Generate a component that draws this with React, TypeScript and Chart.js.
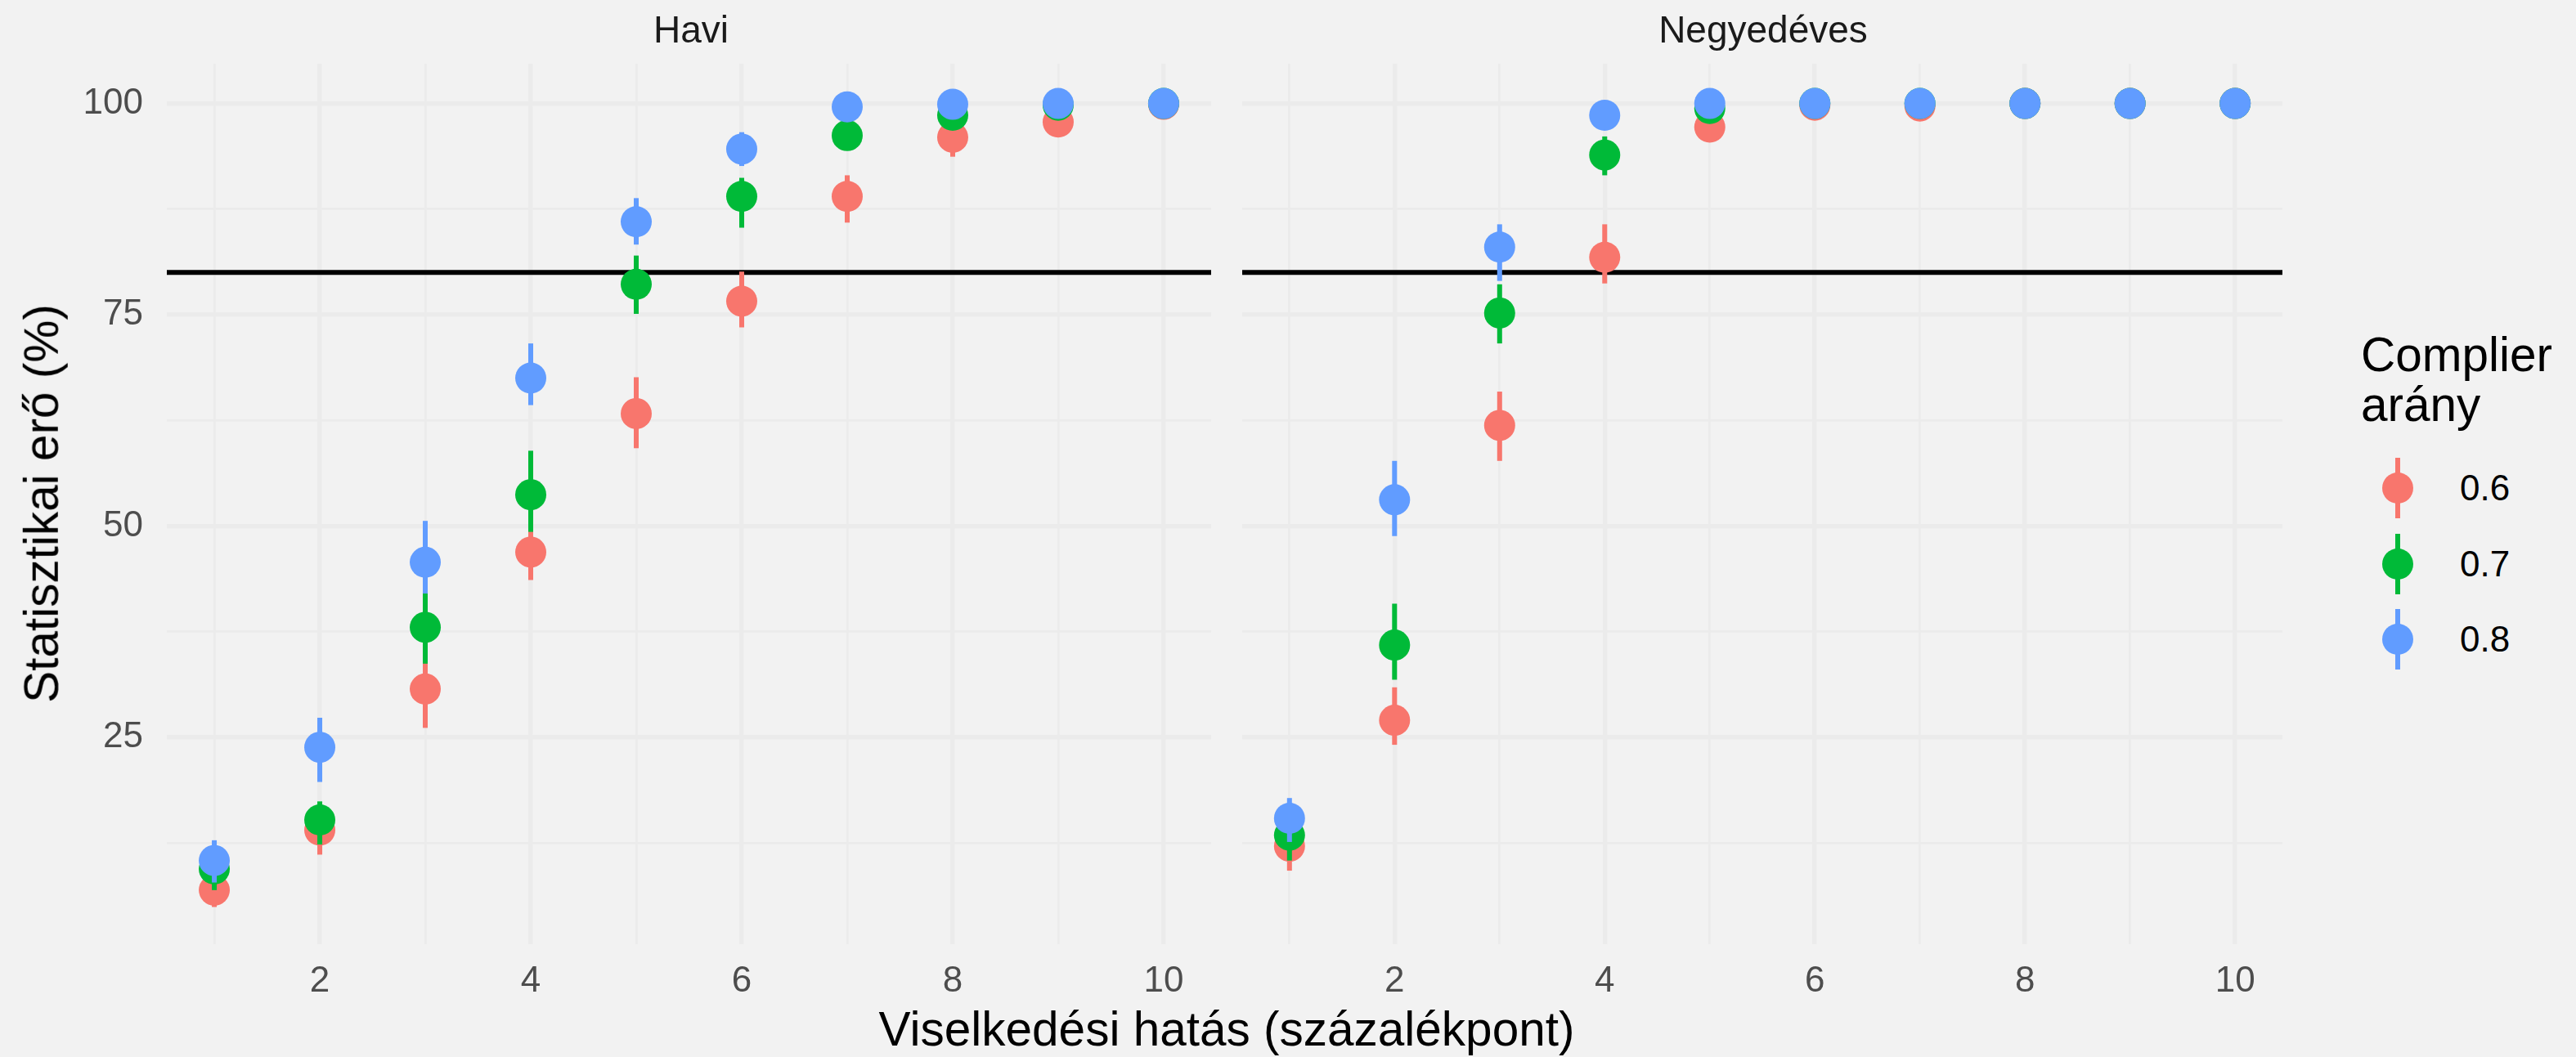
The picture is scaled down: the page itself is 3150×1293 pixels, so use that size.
import React, { useEffect, useRef } from "react";
import { Chart, registerables } from "chart.js";

Chart.register(...registerables);

// ---------- data ----------
const effects = [1, 2, 3, 4, 5, 6, 7, 8, 9, 10];
const facetNames = ["Havi", "Negyedéves"];
const complierLevels = ["0.6", "0.7", "0.8"];
const seriesColors = ["#F8766D", "#00BA38", "#619CFF"];
const yTickValues = [12.5, 25, 37.5, 50, 62.5, 75, 87.5, 100];
const yLabelValues = [25, 50, 75, 100];
const xLabelValues = [2, 4, 6, 8, 10];
const targetPower = 80;

// Havi (monthly)
const haviMean06 = [6.9, 14.0, 30.7, 46.9, 63.3, 76.6, 89.0, 96.0, 97.8, 99.9];
const haviLo06 = [4.9, 11.1, 26.1, 43.6, 59.2, 73.5, 85.9, 93.7, 96.4, 99.5];
const haviHi06 = [9.1, 16.9, 35.0, 50.6, 67.6, 80.1, 91.5, 97.6, 99.0, 100];
const haviMean07 = [9.4, 15.2, 38.0, 53.7, 78.6, 89.0, 96.2, 98.6, 99.8, 100];
const haviLo07 = [6.9, 12.3, 33.7, 49.3, 75.1, 85.3, 94.5, 97.6, 99.4, 100];
const haviHi07 = [12.0, 17.4, 42.3, 58.9, 82.0, 91.2, 97.8, 99.6, 100, 100];
const haviMean08 = [10.4, 23.8, 45.7, 67.5, 86.0, 94.6, 99.6, 99.9, 100, 100];
const haviLo08 = [7.8, 19.7, 42.0, 64.3, 83.3, 92.6, 99.0, 99.6, 100, 100];
const haviHi08 = [12.8, 27.3, 50.6, 71.6, 88.8, 96.6, 100, 100, 100, 100];

// Negyedéves (quarterly)
const negyMean06 = [12.1, 27.0, 61.9, 81.8, 97.2, 99.8, 99.7, 100, 100, 100];
const negyLo06 = [9.2, 24.1, 57.7, 78.7, 95.8, 99.3, 99.2, 100, 100, 100];
const negyHi06 = [15.0, 30.9, 65.9, 85.7, 98.6, 100, 100, 100, 100, 100];
const negyMean07 = [13.4, 35.9, 75.2, 93.9, 99.4, 100, 100, 100, 100, 100];
const negyLo07 = [10.4, 31.8, 71.6, 91.5, 98.7, 100, 100, 100, 100, 100];
const negyHi07 = [16.4, 40.8, 78.6, 96.1, 100, 100, 100, 100, 100, 100];
const negyMean08 = [15.4, 53.1, 83.0, 98.6, 100, 100, 100, 100, 100, 100];
const negyLo08 = [12.6, 48.8, 79.0, 97.6, 100, 100, 100, 100, 100, 100];
const negyHi08 = [17.8, 57.7, 85.7, 99.6, 100, 100, 100, 100, 100, 100];

const facetSeries = [
  [
    { mean: haviMean06, lo: haviLo06, hi: haviHi06 },
    { mean: haviMean07, lo: haviLo07, hi: haviHi07 },
    { mean: haviMean08, lo: haviLo08, hi: haviHi08 },
  ],
  [
    { mean: negyMean06, lo: negyLo06, hi: negyHi06 },
    { mean: negyMean07, lo: negyLo07, hi: negyHi07 },
    { mean: negyMean08, lo: negyLo08, hi: negyHi08 },
  ],
];

// ---------- styling / layout ----------
const FONT = "'Liberation Sans', Arial, sans-serif";
const BG = "#F2F2F2";
const GRID = "#EBEBEB";
const TOTAL_W = 3150;
const TOTAL_H = 1293;
const PANEL_TOP = 78;
const XAXIS_H = 138;
const POINT_R = 19;
const BAR_W = 6;
const TITLE_SIZE = 58.5;
const TICK_SIZE = 44;

const panels = [
  { canvasLeft: 0, canvasWidth: 1500, yAxisWidth: 204, padRight: 14, showY: true },
  { canvasLeft: 1500, canvasWidth: 1310, yAxisWidth: 15, padRight: 13, showY: false },
];

const errorBarPlugin = {
  id: "errorBars",
  beforeDatasetsDraw(chart: any) {
    const { ctx, chartArea, scales } = chart;
    const y = scales.y.getPixelForValue(targetPower);
    ctx.save();
    ctx.strokeStyle = "#000000";
    ctx.lineWidth = 6;
    ctx.beginPath();
    ctx.moveTo(chartArea.left, y);
    ctx.lineTo(chartArea.right, y);
    ctx.stroke();
    ctx.restore();
  },
  beforeDatasetDraw(chart: any, args: any) {
    const ds: any = chart.data.datasets[args.index];
    if (!ds.errLo) return;
    const { ctx, scales } = chart;
    ctx.save();
    ctx.strokeStyle = ds.backgroundColor;
    ctx.lineWidth = BAR_W;
    ctx.lineCap = "butt";
    ds.data.forEach((p: any, i: number) => {
      const x = scales.x.getPixelForValue(p.x);
      const y1 = scales.y.getPixelForValue(ds.errLo[i]);
      const y2 = scales.y.getPixelForValue(ds.errHi[i]);
      ctx.beginPath();
      ctx.moveTo(x, y1);
      ctx.lineTo(x, y2);
      ctx.stroke();
    });
    ctx.restore();
  },
};

function makeConfig(facetIndex: number) {
  const p = panels[facetIndex];
  const datasets = complierLevels.map((lvl, s) => {
    const ser = facetSeries[facetIndex][s];
    return {
      label: lvl,
      data: effects.map((x, i) => ({ x, y: ser.mean[i] })),
      errLo: ser.lo,
      errHi: ser.hi,
      backgroundColor: seriesColors[s],
      borderColor: seriesColors[s],
      pointRadius: POINT_R,
      pointHoverRadius: POINT_R,
      pointBorderWidth: 0,
      showLine: false,
      order: 3 - s,
    };
  });
  return {
    type: "scatter",
    data: { datasets },
    plugins: [errorBarPlugin],
    options: {
      responsive: false,
      animation: false,
      events: [],
      layout: { padding: { left: 0, right: p.padRight, top: PANEL_TOP, bottom: 0 } },
      plugins: { legend: { display: false }, tooltip: { enabled: false }, title: { display: false } },
      scales: {
        x: {
          type: "linear",
          min: 0.55,
          max: 10.45,
          afterBuildTicks: (axis: any) => {
            axis.ticks = effects.map((v) => ({ value: v }));
          },
          afterFit: (axis: any) => {
            axis.height = XAXIS_H;
          },
          grid: {
            color: GRID,
            lineWidth: (c: any) => (c.tick && xLabelValues.includes(c.tick.value) ? 5.5 : 2.8),
            drawTicks: false,
          },
          border: { display: false },
          ticks: {
            autoSkip: false,
            maxRotation: 0,
            padding: 19,
            color: "#4D4D4D",
            font: { family: FONT, size: TICK_SIZE },
            callback: (v: any) => (xLabelValues.includes(Number(v)) ? String(v) : ""),
          },
        },
        y: {
          type: "linear",
          min: 0.5,
          max: 104.7,
          afterBuildTicks: (axis: any) => {
            axis.ticks = yTickValues.map((v) => ({ value: v }));
          },
          afterFit: (axis: any) => {
            axis.width = p.yAxisWidth;
          },
          grid: {
            color: GRID,
            lineWidth: (c: any) => (c.tick && yLabelValues.includes(c.tick.value) ? 5.5 : 2.8),
            drawTicks: false,
          },
          border: { display: false },
          ticks: {
            display: p.showY,
            autoSkip: false,
            padding: 29,
            color: "#4D4D4D",
            font: { family: FONT, size: TICK_SIZE },
            callback: (v: any) => (yLabelValues.includes(Number(v)) ? String(v) : ""),
          },
        },
      },
    },
  };
}

function LegendKey({ color, cy, label }: { color: string; cy: number; label: string }) {
  return (
    <>
      <div
        style={{
          position: "absolute",
          left: 2932 - BAR_W / 2,
          top: cy - 37,
          width: BAR_W,
          height: 74,
          background: color,
        }}
      />
      <div
        style={{
          position: "absolute",
          left: 2932 - POINT_R,
          top: cy - POINT_R,
          width: POINT_R * 2,
          height: POINT_R * 2,
          borderRadius: "50%",
          background: color,
        }}
      />
      <div
        style={{
          position: "absolute",
          left: 3008,
          top: cy - 30,
          height: 60,
          lineHeight: "60px",
          fontSize: 44,
          color: "#000000",
          whiteSpace: "nowrap",
        }}
      >
        {label}
      </div>
    </>
  );
}

export default function App() {
  const ref0 = useRef<HTMLCanvasElement | null>(null);
  const ref1 = useRef<HTMLCanvasElement | null>(null);

  useEffect(() => {
    const charts: Chart[] = [];
    [ref0, ref1].forEach((r, i) => {
      if (r.current) {
        charts.push(new Chart(r.current, makeConfig(i) as any));
      }
    });
    return () => charts.forEach((c) => c.destroy());
  }, []);

  const legendYs = [597, 690, 782];

  return (
    <div
      style={{
        position: "absolute",
        left: 0,
        top: 0,
        width: TOTAL_W,
        height: TOTAL_H,
        background: BG,
        fontFamily: FONT,
        overflow: "hidden",
      }}
    >
      {[ref0, ref1].map((r, i) => (
        <canvas
          key={i}
          ref={r}
          width={panels[i].canvasWidth}
          height={TOTAL_H}
          style={{
            position: "absolute",
            left: panels[i].canvasLeft,
            top: 0,
            width: panels[i].canvasWidth,
            height: TOTAL_H,
          }}
        />
      ))}

      {/* strip labels */}
      {facetNames.map((name, i) => {
        const cx = i === 0 ? 845 : 2156;
        return (
          <div
            key={name}
            style={{
              position: "absolute",
              left: cx,
              top: 13,
              transform: "translateX(-50%)",
              fontSize: 46,
              lineHeight: "46px",
              color: "#1A1A1A",
              whiteSpace: "nowrap",
            }}
          >
            {name}
          </div>
        );
      })}

      {/* x axis title */}
      <div
        style={{
          position: "absolute",
          left: 1500,
          top: 1230,
          transform: "translateX(-50%)",
          fontSize: TITLE_SIZE,
          lineHeight: `${TITLE_SIZE}px`,
          color: "#000000",
          whiteSpace: "nowrap",
        }}
      >
        Viselkedési hatás (százalékpont)
      </div>

      {/* y axis title */}
      <div
        style={{
          position: "absolute",
          left: 51,
          top: 616,
          transform: "translate(-50%, -50%) rotate(-90deg)",
          fontSize: TITLE_SIZE,
          lineHeight: `${TITLE_SIZE}px`,
          color: "#000000",
          whiteSpace: "nowrap",
        }}
      >
        Statisztikai erő (%)
      </div>

      {/* legend */}
      <div
        style={{
          position: "absolute",
          left: 2887,
          top: 403,
          fontSize: TITLE_SIZE,
          lineHeight: "61px",
          color: "#000000",
          whiteSpace: "nowrap",
        }}
      >
        Complier
        <br />
        arány
      </div>
      {complierLevels.map((lvl, i) => (
        <LegendKey key={lvl} color={seriesColors[i]} cy={legendYs[i]} label={lvl} />
      ))}
    </div>
  );
}
